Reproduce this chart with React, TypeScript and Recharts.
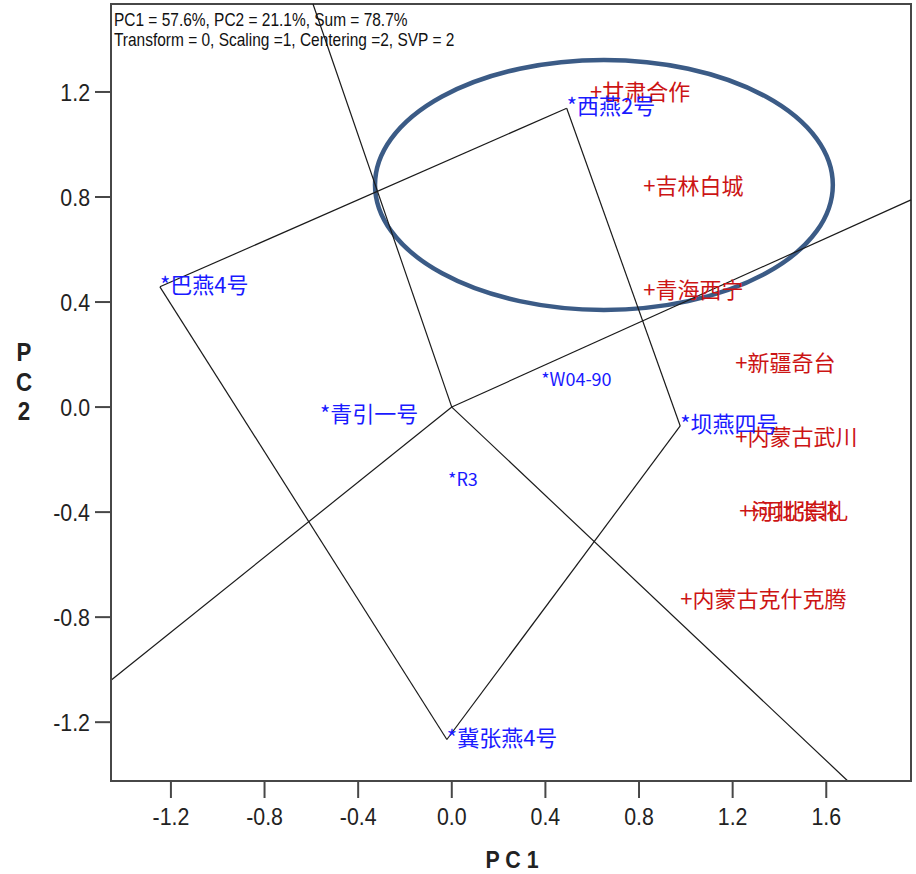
import React from 'react';
import { ScatterChart, Scatter, XAxis, YAxis, ReferenceLine, ReferenceArea } from 'recharts';

// ---- axes ----
const xTicks = [-1.2, -0.8, -0.4, 0, 0.4, 0.8, 1.2, 1.6];
const yTicks = [-1.2, -0.8, -0.4, 0, 0.4, 0.8, 1.2];
const xDomain = [-1.456, 1.962];
const yDomain = [-1.424, 1.535];

// ---- genotypes (blue, *) ----
const genotypeNames = ['西燕2号', '巴燕4号', '冀张燕4号', '坝燕四号', '青引一号', 'W04-90', 'R3'];
const genotypePC1 = [0.491, -1.247, -0.021, 0.976, -0.563, 0.382, -0.016];
const genotypePC2 = [1.138, 0.458, -1.266, -0.072, -0.034, 0.107, -0.274];

// ---- environments (red, +) ----
const envNames = ['甘肃合作', '吉林白城', '青海西宁', '新疆奇台', '内蒙古武川', '河北张北', '河北崇礼', '内蒙古克什克腾'];
const envPC1 = [0.591, 0.818, 0.818, 1.211, 1.211, 1.228, 1.266, 0.976];
const envPC2 = [1.192, 0.834, 0.438, 0.160, -0.122, -0.404, -0.404, -0.739];

// ---- polygon vertices (in drawing order) ----
const polygonOrder = ['巴燕4号', '西燕2号', '坝燕四号', '冀张燕4号'];

// ---- rays from the origin (end points) ----
const rayEndPC1 = [-0.593, 1.962, -1.456, 1.692];
const rayEndPC2 = [1.535, 0.789, -1.040, -1.424];

// ---- highlight ellipse bounding box ----
const ellipsePC1 = [-0.328, 1.628];
const ellipsePC2 = [0.370, 1.322];

// ---- texts ----
const headerLines = ['PC1 = 57.6%, PC2 = 21.1%, Sum = 78.7%', 'Transform = 0, Scaling =1, Centering =2, SVP = 2'];
const xTitle = 'P C 1';
const yTitleChars = ['P', 'C', '2'];

const genotypeData = genotypeNames.map((name, i) => ({ name, x: genotypePC1[i], y: genotypePC2[i] }));
const envData = envNames.map((name, i) => ({ name, x: envPC1[i], y: envPC2[i] }));
const polyPts = polygonOrder.map((n) => genotypeData.find((g) => g.name === n)!);

const AXIS_COLOR = '#474747';
const TICK_FONT = "'Liberation Sans', Arial, sans-serif";

const XTick = (p: any) => {
  const { x, y, payload } = p;
  return (
    <g transform={`translate(${x},${y})`}>
      <text transform="scale(0.89,1)" textAnchor="middle" y={25} fontSize={24} fontFamily={TICK_FONT} fill="#222">
        {Number(payload.value).toFixed(1)}
      </text>
    </g>
  );
};

const YTick = (p: any) => {
  const { x, y, payload } = p;
  return (
    <g transform={`translate(${x - 3},${y})`}>
      <text transform="scale(0.89,1)" textAnchor="end" y={8.6} fontSize={24} fontFamily={TICK_FONT} fill="#222">
        {Number(payload.value).toFixed(1)}
      </text>
    </g>
  );
};

const makeLabel = (prefix: string, color: string) => (props: any) => {
  const { cx, cy, payload } = props;
  const ascii = /^[\x00-\x7f]*$/.test(payload.name);
  return (
    <text
      x={cx}
      y={cy}
      dy={ascii ? -1 : -4}
      fill={color}
      fontSize={ascii ? 18 : 22}
      fontFamily="'Noto Sans CJK SC', sans-serif"
      dominantBaseline="central"
    >
      {prefix + payload.name}
    </text>
  );
};

const EllipseShape = (p: any) => {
  const w = Math.abs(p.width);
  const h = Math.abs(p.height);
  const x0 = Math.min(p.x, p.x + p.width);
  const y0 = Math.min(p.y, p.y + p.height);
  return (
    <ellipse cx={x0 + w / 2} cy={y0 + h / 2} rx={w / 2} ry={h / 2} fill="none" stroke="#3b5b86" strokeWidth={4.5} />
  );
};

export default function App() {
  return (
    <div style={{ position: 'absolute', left: 0, top: 0, width: 916, height: 874, background: '#fff' }}>
      <ScatterChart width={916} height={874} margin={{ top: 4, right: 5, bottom: 0, left: 0 }}>
        <XAxis
          type="number"
          dataKey="x"
          domain={xDomain}
          ticks={xTicks}
          interval={0}
          allowDataOverflow
          height={93}
          tickSize={17}
          axisLine={{ stroke: AXIS_COLOR, strokeWidth: 2 }}
          tickLine={{ stroke: AXIS_COLOR, strokeWidth: 2 }}
          tick={(p: any) => <XTick {...p} />}
        />
        <YAxis
          type="number"
          dataKey="y"
          domain={yDomain}
          ticks={yTicks}
          interval={0}
          allowDataOverflow
          width={111}
          tickSize={16}
          axisLine={{ stroke: AXIS_COLOR, strokeWidth: 2 }}
          tickLine={{ stroke: AXIS_COLOR, strokeWidth: 2 }}
          tick={(p: any) => <YTick {...p} />}
        />
        <ReferenceArea
          x1={xDomain[0]}
          x2={xDomain[1]}
          y1={yDomain[0]}
          y2={yDomain[1]}
          fill="none"
          stroke={AXIS_COLOR}
          strokeWidth={2}
          ifOverflow="visible"
        />
        {polyPts.map((pt, i) => {
          const nx = polyPts[(i + 1) % polyPts.length];
          return (
            <ReferenceLine
              key={'poly' + i}
              segment={[{ x: pt.x, y: pt.y }, { x: nx.x, y: nx.y }]}
              stroke="#1a1a1a"
              strokeWidth={1.2}
              ifOverflow="visible"
            />
          );
        })}
        {rayEndPC1.map((rx, i) => (
          <ReferenceLine
            key={'ray' + i}
            segment={[{ x: 0, y: 0 }, { x: rx, y: rayEndPC2[i] }]}
            stroke="#1a1a1a"
            strokeWidth={1.2}
            ifOverflow="visible"
          />
        ))}
        <Scatter data={envData} isAnimationActive={false} shape={makeLabel('+', '#cc1414')} />
        <Scatter data={genotypeData} isAnimationActive={false} shape={makeLabel('*', '#1a1aff')} />
        <ReferenceArea
          x1={ellipsePC1[0]}
          x2={ellipsePC1[1]}
          y1={ellipsePC2[0]}
          y2={ellipsePC2[1]}
          ifOverflow="visible"
          shape={(p: any) => <EllipseShape {...p} />}
        />
      </ScatterChart>
      <svg
        width={916}
        height={874}
        style={{ position: 'absolute', left: 0, top: 0, pointerEvents: 'none' }}
      >
        {headerLines.map((t, i) => (
          <text
            key={t}
            transform={`translate(114,${26 + i * 19.5}) scale(0.86,1)`}
            fontSize={18}
            fontFamily={TICK_FONT}
            fill="#111"
          >
            {t}
          </text>
        ))}
        <text
          transform="translate(512,868) scale(0.89,1)"
          textAnchor="middle"
          fontSize={24}
          fontWeight="bold"
          fontFamily={TICK_FONT}
          fill="#222"
        >
          {xTitle}
        </text>
        {yTitleChars.map((c, i) => (
          <text
            key={c}
            transform={`translate(24,${361 + i * 29.5}) scale(0.89,1)`}
            textAnchor="middle"
            fontSize={25}
            fontWeight="bold"
            fontFamily={TICK_FONT}
            fill="#222"
          >
            {c}
          </text>
        ))}
      </svg>
    </div>
  );
}
